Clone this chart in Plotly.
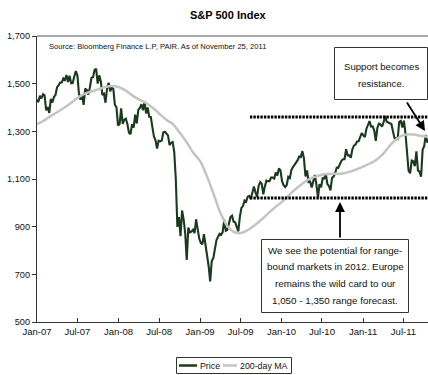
import pandas as pd
import plotly.graph_objects as go

# Weekly (Friday) S&P 500 closes, one list per calendar year
PRICE_2007 = [1409, 1430, 1431, 1423,
              1449, 1438, 1456, 1451,
              1388, 1402, 1377, 1436, 1421,
              1444, 1453, 1485, 1494,
              1505, 1505, 1522, 1515,
              1536, 1507, 1533, 1502, 1503,
              1530, 1553, 1534, 1458,
              1433, 1453, 1411, 1479, 1474,
              1454, 1484, 1525, 1527,
              1557, 1563, 1500, 1535,
              1509, 1453, 1458, 1420, 1481,
              1504, 1468, 1484, 1478]
PRICE_2008 = [1411, 1401, 1325, 1330,
              1396, 1331, 1349, 1353, 1331,
              1294, 1288, 1330, 1316,
              1370, 1333, 1390, 1398,
              1414, 1388, 1425, 1375, 1400,
              1361, 1360, 1318, 1278,
              1262, 1228, 1261, 1258,
              1261, 1296, 1298, 1292, 1283,
              1242, 1252, 1255, 1213,
              1099, 899, 940, 860, 968,
              931, 873, 760, 896,
              876, 879, 887, 873]
PRICE_2009 = [931, 890, 850, 832, 826,
              869, 827, 770, 735,
              670, 756, 768, 816,
              843, 857, 870, 866,
              877, 930, 883, 887, 919,
              940, 946, 921, 918,
              896, 880, 941, 979, 987,
              1010, 1005, 1026, 1029,
              1016, 1042, 1068, 1044,
              1025, 1071, 1087, 1080, 1036,
              1069, 1093, 1091, 1091,
              1106, 1106, 1102, 1127]
PRICE_2010 = [1115, 1144, 1136, 1091, 1074,
              1066, 1075, 1109, 1104,
              1138, 1150, 1160, 1167,
              1179, 1194, 1192, 1217, 1187,
              1111, 1136, 1087, 1089,
              1064, 1092, 1117, 1076,
              1022, 1078, 1065, 1103, 1102,
              1122, 1079, 1071, 1052,
              1105, 1110, 1125, 1148,
              1147, 1166, 1176, 1183, 1183,
              1225, 1199, 1199, 1189,
              1224, 1240, 1244, 1257, 1258]
PRICE_2011 = [1272, 1293, 1283, 1276,
              1310, 1329, 1343, 1320,
              1321, 1304, 1260, 1314,
              1332, 1329, 1320, 1338, 1364,
              1340, 1338, 1333, 1331,
              1300, 1271, 1271, 1268,
              1340, 1344, 1316, 1345, 1292,
              1199, 1135, 1124, 1177,
              1174, 1154, 1216, 1136, 1131,
              1110, 1224, 1238, 1285,
              1253, 1264, 1216, 1159]

# 200-day moving average, one reading per month (Jan-2007 .. Nov-2011)
MA_200 = [1330, 1345, 1363, 1380, 1398, 1418, 1440, 1457, 1467, 1476, 1485, 1490,
          1486, 1472, 1452, 1434, 1420, 1400, 1375, 1350, 1330, 1295, 1255, 1210,
          1175, 1110, 1040, 960, 905, 878, 873, 885, 905, 928, 955, 980,
          1003, 1030, 1055, 1078, 1098, 1110, 1118, 1121, 1122, 1123, 1130, 1140,
          1152, 1165, 1180, 1205, 1240, 1268, 1284, 1288, 1284, 1279, 1276]

# Trading range drawn as dotted guides
RANGE_START = "2009-08-31"
RANGE_END = "2011-11-25"
RANGE_HIGH = 1360
RANGE_LOW = 1020

TICK_LABELS = ["Jan-07", "Jul-07", "Jan-08", "Jul-08", "Jan-09",
               "Jul-09", "Jan-10", "Jul-10", "Jan-11", "Jul-11"]

AXIS_START = pd.Timestamp("2007-01-20")
AXIS_END = pd.Timestamp("2011-11-07")

price = PRICE_2007 + PRICE_2008 + PRICE_2009 + PRICE_2010 + PRICE_2011
price_dates = pd.date_range("2007-01-05", "2011-11-25", freq="W-FRI")
assert len(price) == len(price_dates), (len(price), len(price_dates))

ma_dates = [AXIS_START + pd.DateOffset(months=i) for i in range(len(MA_200))]
tick_dates = [AXIS_START + pd.DateOffset(months=6 * i) for i in range(len(TICK_LABELS))]

FONT = "Liberation Sans, Arial, sans-serif"
GREEN = "#1b3a1d"
GREY = "#c4c4c4"

# plot-area geometry in pixels (used for the callouts and legend)
W, H = 428, 375
L, R, T, B = 37, 428, 36, 322


def px(x):
    return (x - L) / (R - L)


def py(y):
    return (B - y) / (B - T)


fig = go.Figure()
fig.add_trace(go.Scatter(x=price_dates, y=price, mode="lines", name="Price",
                         line=dict(color=GREEN, width=2.1)))
fig.add_trace(go.Scatter(x=ma_dates, y=MA_200, mode="lines", name="200-day MA",
                         line=dict(color=GREY, width=2.5, shape="spline")))
for level in (RANGE_HIGH, RANGE_LOW):
    fig.add_trace(go.Scatter(x=[RANGE_START, RANGE_END], y=[level, level],
                             mode="lines", showlegend=False,
                             line=dict(color="black", width=3, dash="2.4px,1.1px")))

shapes = [
    # top frame line
    dict(type="line", xref="paper", yref="paper", x0=0, x1=1, y0=1, y1=1,
         line=dict(color="#555555", width=1)),
    # callout boxes
    dict(type="rect", xref="paper", yref="paper",
         x0=px(334.5), x1=px(427.5), y0=py(99.5), y1=py(47.5),
         line=dict(color="#333333", width=1), fillcolor="white"),
    dict(type="rect", xref="paper", yref="paper",
         x0=px(261.5), x1=px(408.5), y0=py(312.5), y1=py(239.5),
         line=dict(color="#333333", width=1), fillcolor="white"),
    # legend frame and samples
    dict(type="rect", xref="paper", yref="paper",
         x0=px(176.5), x1=px(291.5), y0=py(373.5), y1=py(357.5),
         line=dict(color="#333333", width=1), fillcolor="white"),
    dict(type="line", xref="paper", yref="paper",
         x0=px(179), x1=px(197), y0=py(365.5), y1=py(365.5),
         line=dict(color=GREEN, width=2.5)),
    dict(type="line", xref="paper", yref="paper",
         x0=px(223), x1=px(237), y0=py(365.5), y1=py(365.5),
         line=dict(color=GREY, width=2.5)),
]

annotations = []


def text(s, x, y, size=9.8, anchor="center", bold=False, color="#111111"):
    annotations.append(dict(
        text=f"<b>{s}</b>" if bold else s, xref="paper", yref="paper",
        x=px(x), y=py(y), xanchor=anchor, yanchor="middle", showarrow=False,
        font=dict(family=FONT, size=size, color=color)))


text("S&P 500 Index", 228, 15, size=11, bold=True, color="black")
text("Source: Bloomberg Finance L.P, PAIR. As of November 25, 2011", 47, 46,
     size=7.6, anchor="left")

text("Support becomes", 381, 66, size=9.6)
text("resistance.", 381, 83, size=9.6)

for s, y in zip(["We see the potential for range-",
                 "bound markets in 2012. Europe",
                 "remains the wild card to our",
                 "1,050 - 1,350 range forecast."],
                [250, 266.7, 283.3, 300.5]):
    text(s, 335, y)

text("Price", 198, 365.5, size=8.8, anchor="left")
text("200-day MA", 238, 365.5, size=8.8, anchor="left")

# callout arrows
for tip, tail in [((425, 131), (406, 101)), ((340, 202), (340, 239))]:
    annotations.append(dict(
        text="", xref="paper", yref="paper", x=px(tip[0]), y=py(tip[1]),
        ax=tail[0] - tip[0], ay=tail[1] - tip[1], showarrow=True,
        arrowhead=2, arrowsize=1.1, arrowwidth=1.8, arrowcolor="black"))

fig.update_layout(
    width=W, height=H,
    margin=dict(l=L, r=W - R, t=T, b=H - B),
    paper_bgcolor="white", plot_bgcolor="white",
    showlegend=False,
    font=dict(family=FONT, size=9.5, color="#111111"),
    shapes=shapes, annotations=annotations,
    xaxis=dict(range=[AXIS_START, AXIS_END], tickvals=tick_dates,
               ticktext=TICK_LABELS, ticks="inside", ticklen=4,
               tickcolor="#333333", showline=True, linecolor="#333333",
               linewidth=1.3, showgrid=False, zeroline=False,
               tickfont=dict(size=9.5)),
    yaxis=dict(range=[500, 1700], tickvals=[500, 700, 900, 1100, 1300, 1500, 1700],
               tickformat=",d", ticks="outside", ticklen=4,
               tickcolor="#333333", showline=True, linecolor="#333333",
               linewidth=1.3, showgrid=False, zeroline=False,
               tickfont=dict(size=9.2)),
)

fig.write_html("out.html", config={"displayModeBar": False})
